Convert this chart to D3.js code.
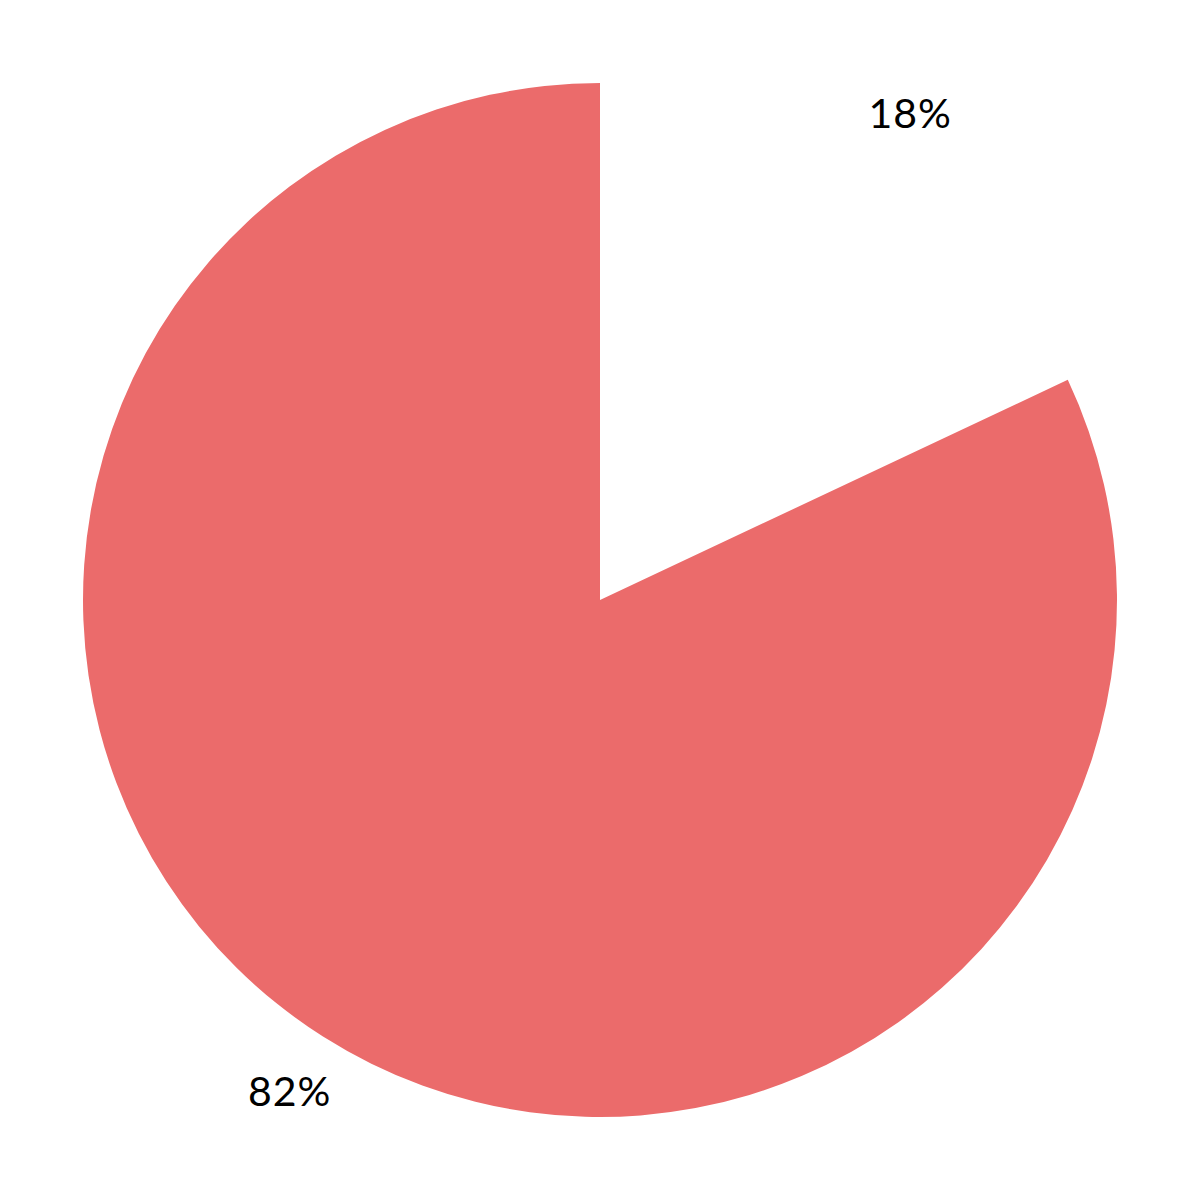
<!DOCTYPE html>
<html>
<head>
<meta charset="utf-8">
<script src="https://cdn.jsdelivr.net/npm/d3@7"></script>
<style>
  body { margin: 0; background: #fff; }
</style>
</head>
<body>
<div class="pie-chart"></div>
<script>
var labels = ["18%", "82%"];
var values = [18, 82];
var colors = ["none", "#eb6b6b"];

var width = 1200, height = 1200;
var radius = 517;
var labelRadius = 579;

var svg = d3.select(".pie-chart")
  .append("svg")
    .attr("width", width)
    .attr("height", height);

var g = svg.append("g")
  .attr("transform", "translate(600,600)");

var pie = d3.pie().sort(null).value(function(d){ return d; });
var arcs = pie(values);

var arc = d3.arc().innerRadius(0).outerRadius(radius);
var labelArc = d3.arc().innerRadius(labelRadius).outerRadius(labelRadius);

g.selectAll("path.slice")
  .data(arcs)
  .enter()
  .append("path")
    .attr("class", "slice")
    .attr("d", arc)
    .style("fill", function(d, i){ return colors[i]; });

g.selectAll("text.label")
  .data(arcs)
  .enter()
  .append("text")
    .attr("class", "label")
    .attr("transform", function(d){ return "translate(" + labelArc.centroid(d) + ")"; })
    .attr("dy", "0.42em")
    .style("text-anchor", "middle")
    .style("font-family", "Lato, 'Noto Sans', sans-serif")
    .style("font-size", "41px")
    .style("letter-spacing", "1px")
    .style("fill", "#000")
    .text(function(d, i){ return labels[i]; });
</script>
</body>
</html>
